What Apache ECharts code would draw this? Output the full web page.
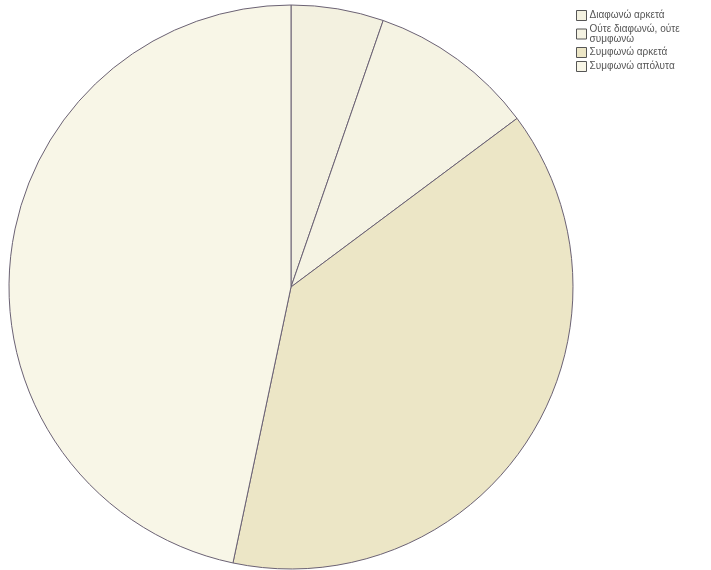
<!DOCTYPE html>
<html><head><meta charset="utf-8">
<script src="https://cdn.jsdelivr.net/npm/echarts@6/dist/echarts.min.js"></script>
<style>html,body{margin:0;padding:0;background:#fff}#c{width:711px;height:570px}</style>
</head><body><div id="c"></div>
<script>
const categories = ['Διαφωνώ αρκετά', 'Ούτε διαφωνώ, ούτε\nσυμφωνώ', 'Συμφωνώ αρκετά', 'Συμφωνώ απόλυτα'];
const values = [5.3, 9.5, 38.5, 46.7];
const colors = ['#f3f1e0', '#f5f3e3', '#ece6c6', '#f8f6e7'];

const chart = echarts.init(document.getElementById('c'));
chart.setOption({
  animation: false,
  backgroundColor: '#ffffff',
  color: colors,
  legend: {
    orient: 'vertical',
    left: 571, top: 5,
    itemWidth: 10, itemHeight: 10, itemGap: 3,
    icon: 'rect',
    data: categories,
    itemStyle: { borderColor: '#555', borderWidth: 1 },
    textStyle: { fontFamily: 'Liberation Sans', fontSize: 10, color: '#555', lineHeight: 10, padding: [0,0,0,-2] }
  },
  series: [{
    type: 'pie',
    center: [291, 287],
    radius: 282,
    startAngle: 90,
    clockwise: true,
    label: { show: false },
    labelLine: { show: false },
    emphasis: { disabled: true },
    itemStyle: { borderColor: '#6b6274', borderWidth: 1 },
    data: categories.map((n, i) => ({ name: n, value: values[i] }))
  }]
});
</script></body></html>
